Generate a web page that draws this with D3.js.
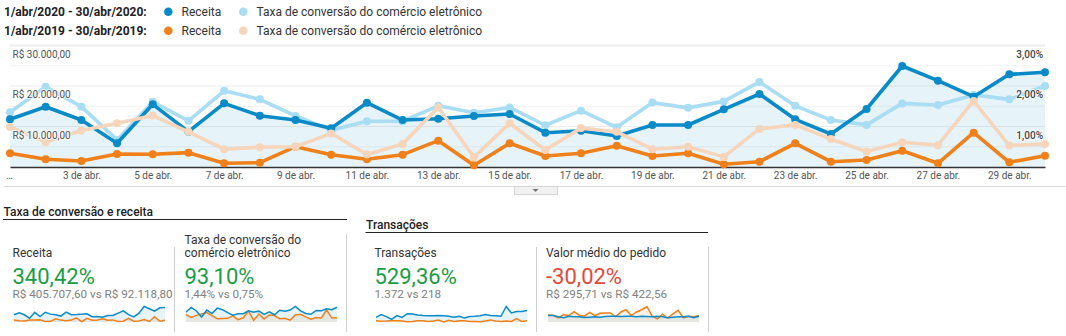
<!DOCTYPE html>
<html>
<head>
<meta charset="utf-8">
<script src="https://cdn.jsdelivr.net/npm/d3@7"></script>
<style>
  body { margin: 0; background: #fff; font-family: Roboto, Arial, sans-serif; }
  svg { display: block; }
</style>
</head>
<body>
<svg id="chart" width="1066" height="336"></svg>
<script>
// ---- data: April, day by day ----
const days = [1,2,3,4,5,6,7,8,9,10,11,12,13,14,15,16,17,18,19,20,21,22,23,24,25,26,27,28,29,30];

const receita2020 = [11780,14890,11600,5850,15480,8720,15720,12670,11600,9550,15880,11600,11930,12590,13090,8470,8960,7650,10370,10370,14240,18020,11780,8150,14320,24940,21310,17360,22880,23380];
const receita2019 = [3380,1900,1480,3210,3130,3540,910,1070,5020,3040,1900,3040,6500,420,5850,2720,3380,5260,2720,3380,670,1310,5850,1310,1730,4020,910,8470,1160,2790];

// e-commerce conversion rate, in percent
const conv2020 = [1.35,1.98,1.49,0.67,1.61,1.14,1.88,1.67,1.26,0.91,1.13,1.13,1.51,1.34,1.47,1.03,1.39,0.98,1.59,1.46,1.62,2.10,1.51,1.16,1.04,1.57,1.53,1.78,1.67,2.00];
const conv2019 = [0.99,0.62,0.90,1.08,1.27,0.87,0.44,0.49,0.50,0.83,0.31,0.57,1.47,0.24,1.08,0.42,0.96,0.87,0.44,0.50,0.25,0.94,1.04,0.69,0.38,0.61,0.54,1.63,0.53,0.57];

const trans2020 = [31,50,36,17,43,31,55,53,46,43,41,41,43,41,38,31,38,26,36,38,41,50,43,41,38,103,60,70,70,77];
const trans2019 = [9,5,6,8,9,6,2,3,9,8,4,6,13,1,11,4,9,9,4,4,2,7,14,6,4,6,4,22,4,8];

const ticket2020 = [358,358,287,233,322,287,287,251,269,287,269,304,322,322,304,322,322,287,322,304,287,322,287,233,269,287,287,322,233,322];
const ticket2019 = [394,376,233,412,358,573,376,322,537,358,483,501,501,286,555,680,358,555,680,859,322,179,430,215,448,644,233,322,286,358];

const leftTicks = [10000, 20000, 30000];
const rightTicks = [1, 2, 3];
const minorTicks = [5000, 15000, 25000];
const xTicks = [1,3,5,7,9,11,13,15,17,19,21,23,25,27,29];

const periods = ["1/abr/2020 - 30/abr/2020:", "1/abr/2019 - 30/abr/2019:"];
const metrics = ["Receita", "Taxa de conversão do comércio eletrônico"];

const groupTitles = ["Taxa de conversão e receita", "Transações"];
const kpiTitles = [["Receita"], ["Taxa de conversão do", "comércio eletrônico"], ["Transações"], ["Valor médio do pedido"]];
const kpiChanges = ["340,42%", "93,10%", "529,36%", "-30,02%"];
const kpiCompare = ["R$ 405.707,60 vs R$ 92.118,80", "1,44% vs 0,75%", "1.372 vs 218", "R$ 295,71 vs R$ 422,56"];

// ---- styling ----
const C = {
  blue: "#0a8bc8", lightBlue: "#a9ddf3", orange: "#ef801a", peach: "#f6d5bb",
  fill: "rgba(10,139,200,0.10)", grid: "#ececec", axis: "#333", label: "#555",
  green: "#1a9c45", red: "#df4a3a", gray: "#808080"
};

const br = d3.formatLocale({ decimal: ",", thousands: ".", grouping: [3], currency: ["R$ ", ""] });
const fmtMoney = br.format("$,.2f");
const fmtPct = v => br.format(".2f")(v) + "%";

const svg = d3.select("#chart");

// ---- legend ----
const legend = svg.append("g").attr("font-size", 12);
periods.forEach((p, i) => {
  const cy = 11.7 + i * 19;
  const row = legend.append("g");
  row.append("text").attr("x", 4).attr("y", cy + 4.2).attr("font-weight", 700).attr("fill", "#222").text(p);
  const dotColors = i === 0 ? [C.blue, C.lightBlue] : [C.orange, C.peach];
  const dotX = [168.3, 243.3];
  metrics.forEach((m, j) => {
    row.append("circle").attr("cx", dotX[j]).attr("cy", cy).attr("r", 4.3).attr("fill", dotColors[j]);
    row.append("text").attr("x", dotX[j] + 13.2).attr("y", cy + 4.2).attr("fill", "#333").text(m);
  });
});

// ---- main chart ----
const x = d3.scaleLinear().domain([1, 30]).range([10, 1045]);
const yL = d3.scaleLinear().domain([0, 30000]).range([167, 45.5]);
const yR = d3.scaleLinear().domain([0, 3]).range([167, 45.5]);

const main = svg.append("g");

// grid
main.append("g").selectAll("line").data(minorTicks).join("line")
  .attr("x1", x(1)).attr("x2", x(30))
  .attr("y1", d => yL(d)).attr("y2", d => yL(d))
  .attr("stroke", "#f2f2f2").attr("stroke-width", 1);
main.append("g").selectAll("line").data(leftTicks).join("line")
  .attr("x1", x(1)).attr("x2", x(30))
  .attr("y1", d => yL(d)).attr("y2", d => yL(d))
  .attr("stroke", d => d === 30000 ? "#ececec" : C.grid)
  .attr("stroke-width", d => d === 30000 ? 2 : 1);

const pts = (arr) => days.map((d, i) => ({ d, v: arr[i] }));

// revenue area
main.append("path")
  .datum(pts(receita2020))
  .attr("fill", C.fill)
  .attr("d", d3.area().x(p => x(p.d)).y0(yL(0)).y1(p => yL(p.v)));

// x axis
const xAxis = d3.axisBottom(x).tickValues(xTicks).tickSize(0).tickSizeOuter(0).tickPadding(5)
  .tickFormat(d => d === 1 ? "…" : `${d} de abr.`);
const gx = main.append("g").attr("transform", `translate(0,${yL(0)})`).call(xAxis);
gx.select(".domain").attr("stroke", C.axis).attr("stroke-width", 1.5);
gx.selectAll("text").attr("fill", C.label).attr("font-size", 10).attr("font-family", "Roboto, Arial, sans-serif");
gx.selectAll(".tick").filter(d => d === 1).select("text").attr("dx", -1);

// series
const series = [
  { data: conv2020, y: yR, color: C.lightBlue },
  { data: receita2020, y: yL, color: C.blue },
  { data: receita2019, y: yL, color: C.orange },
  { data: conv2019, y: yR, color: C.peach }
];
series.forEach(s => {
  const g = main.append("g");
  g.append("path").datum(pts(s.data))
    .attr("fill", "none").attr("stroke", s.color).attr("stroke-width", 3.6)
    .attr("stroke-linejoin", "round")
    .attr("d", d3.line().x(p => x(p.d)).y(p => s.y(p.v)));
  g.selectAll("circle").data(pts(s.data)).join("circle")
    .attr("cx", p => x(p.d)).attr("cy", p => s.y(p.v)).attr("r", 4)
    .attr("fill", s.color);
});

// axis labels on top of the series
const labelStyle = sel => sel.attr("font-size", 10).attr("fill", C.label)
  .attr("stroke", "#fff").attr("stroke-width", 2).attr("stroke-opacity", 0.7)
  .attr("paint-order", "stroke");
main.append("g").selectAll("text").data(leftTicks).join("text")
  .attr("x", 12.5).attr("y", d => yL(d) + 12)
  .text(d => fmtMoney(d)).call(labelStyle);
main.append("g").selectAll("text").data(rightTicks).join("text")
  .attr("x", 1043).attr("y", d => yR(d) + 12).attr("text-anchor", "end")
  .attr("font-weight", 500)
  .text(d => fmtPct(d)).call(labelStyle).attr("fill", "#444");

// bottom rule and collapse handle
svg.append("line").attr("x1", 4).attr("x2", 1066).attr("y1", 186.5).attr("y2", 186.5)
  .attr("stroke", "#dadada");
svg.append("rect").attr("x", 514.5).attr("y", 186.5).attr("width", 43).attr("height", 8)
  .attr("fill", "#f1f1f1").attr("stroke", "#d6d6d6");
svg.append("path").attr("d", "M532.5,189 L538.5,189 L535.5,192 Z").attr("fill", "#777");

// ---- KPI groups ----
const groups = [
  { title: groupTitles[0], x: 3, tY: 216, lineY: 219.5, x2: 347 },
  { title: groupTitles[1], x: 365.5, tY: 229.3, lineY: 232.5, x2: 708 }
];
groups.forEach(g => {
  svg.append("text").attr("x", g.x + 0.5).attr("y", g.tY).attr("font-size", 12)
    .attr("font-weight", 500).attr("fill", "#222").text(g.title);
  svg.append("line").attr("x1", g.x).attr("x2", g.x2).attr("y1", g.lineY).attr("y2", g.lineY)
    .attr("stroke", "#222").attr("stroke-width", 1.2);
});

// separators
[[174.5, 247], [346.5, 234], [536.5, 247], [708.5, 247]].forEach(([sx, sy]) => {
  svg.append("line").attr("x1", sx).attr("x2", sx).attr("y1", sy).attr("y2", 332)
    .attr("stroke", "#cfcfcf");
});

const panels = [
  { x: 12.5, sx: 14, a: receita2020, b: receita2019 },
  { x: 184.5, sx: 186, a: conv2020, b: conv2019 },
  { x: 374.5, sx: 376, a: trans2020, b: trans2019 },
  { x: 546, sx: 548, a: ticket2020, b: ticket2019 }
];
panels.forEach((p, i) => {
  const g = svg.append("g");
  const titles = kpiTitles[i];
  titles.forEach((t, k) => {
    g.append("text").attr("x", p.x).attr("y", 256.5 - (titles.length - 1 - k) * 12.3)
      .attr("font-size", 12).attr("fill", "#333").text(t);
  });
  g.append("text").attr("x", p.x).attr("y", 284.3).attr("font-size", 22)
    .attr("fill", kpiChanges[i].startsWith("-") ? C.red : C.green).text(kpiChanges[i]);
  g.append("text").attr("x", p.x).attr("y", 297.8).attr("font-size", 11.7)
    .attr("fill", C.gray).text(kpiCompare[i]);

  // sparkline
  const sx = d3.scaleLinear().domain([1, 30]).range([p.sx, p.sx + 151]);
  const sy = d3.scaleLinear().domain([0, d3.max(p.a.concat(p.b))]).range([322, 306.5]);
  const area = d3.area().x(q => sx(q.d)).y0(sy(0)).y1(q => sy(q.v));
  const line = d3.line().x(q => sx(q.d)).y(q => sy(q.v));
  g.append("path").datum(pts(p.b)).attr("fill", "rgba(239,128,26,0.11)").attr("d", area);
  g.append("path").datum(pts(p.a)).attr("fill", "rgba(10,139,200,0.10)").attr("d", area);
  g.append("path").datum(pts(p.b)).attr("fill", "none").attr("stroke", C.orange)
    .attr("stroke-width", 1.5).attr("d", line);
  g.append("path").datum(pts(p.a)).attr("fill", "none").attr("stroke", C.blue)
    .attr("stroke-width", 1.5).attr("d", line);
});
</script>
</body>
</html>
